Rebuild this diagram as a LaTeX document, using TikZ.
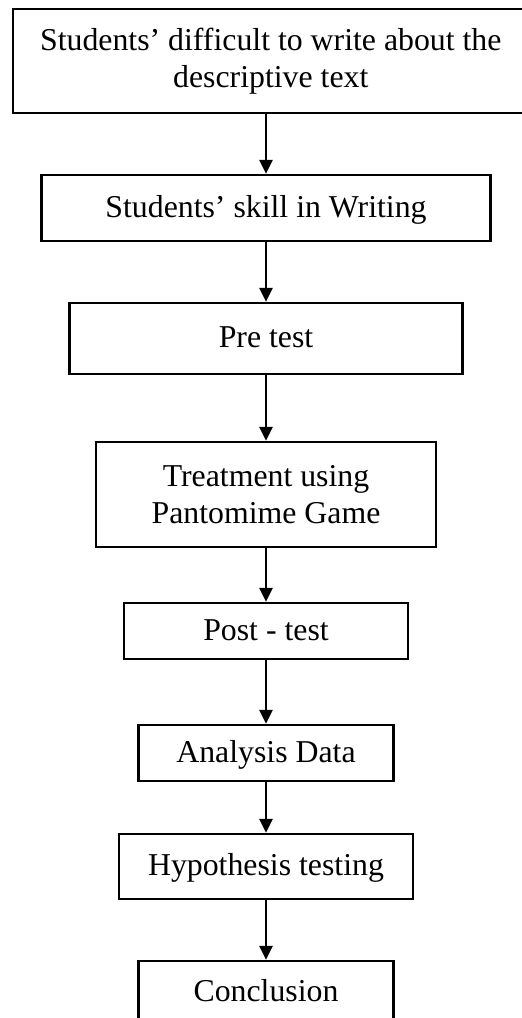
\documentclass[tikz,border=0pt]{standalone}
\usepackage{fontspec}
\setmainfont{Liberation Serif}
\usetikzlibrary{arrows.meta,positioning,shapes}

\begin{document}
\begin{tikzpicture}[->,>={Triangle[length=7pt,width=6.5pt]},line width=1.15pt]
\tikzstyle{every node}=[draw,rectangle,inner sep=0pt,align=center,text=black,font=\fontsize{15.9}{18.5}\selectfont]
\tikzstyle{oneline}=[text height=11pt, text depth=2pt]

\clip (0,0) rectangle (261pt,-509pt);

\node		(A) at (135.4pt,-30.5pt) [minimum width=258pt, minimum height=51.7pt] {Students’ difficult to write about the\\descriptive text};
\node[oneline]	(B) [below of=A, node distance=73.5pt, xshift=-2.4pt, minimum width=224.5pt, minimum height=33pt] {Students’ skill in Writing};
\node[oneline]	(C) [below of=B, node distance=65.25pt, minimum width=196.5pt, minimum height=35.5pt] {Pre test};
\node		(D) [below of=C, node distance=78pt, minimum width=170pt, minimum height=52.5pt] {Treatment using\\Pantomime Game};
\node[oneline]	(E) [below of=D, node distance=68.25pt, minimum width=142pt, minimum height=28pt] {Post - test};
\node[oneline]	(F) [below of=E, node distance=61pt, minimum width=127.5pt, minimum height=28pt] {Analysis Data};
\node[oneline]	(G) [below of=F, node distance=56.75pt, minimum width=147pt, minimum height=32.5pt] {Hypothesis testing};
\node[oneline]	(H) [below of=G, node distance=62.75pt, minimum width=127.5pt, minimum height=31pt] {Conclusion};

\path
(A.south -| B.north) edge (B)
(B) edge (C)
(C) edge (D)
(D) edge (E)
(E) edge (F)
(F) edge (G)
(G) edge (H);
\end{tikzpicture}
\end{document}
